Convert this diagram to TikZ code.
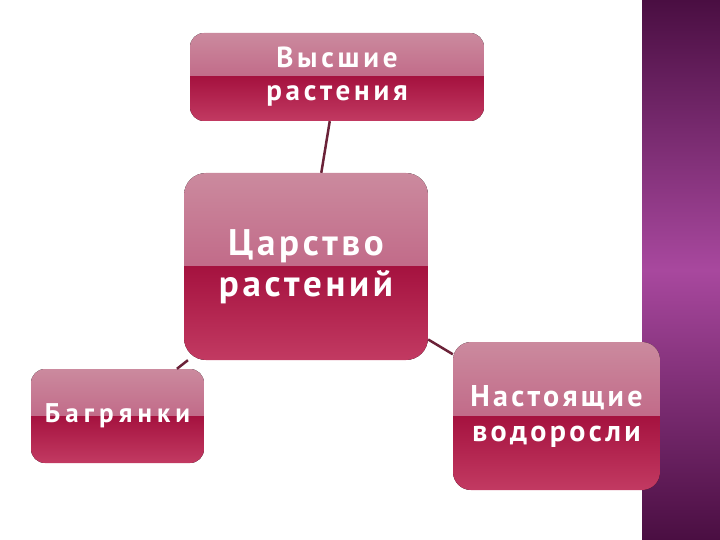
\documentclass[tikz,border=0pt]{standalone}
\usepackage{fontspec}
\setmainfont{PT Sans}
\usetikzlibrary{shadings}

\definecolor{glosstop}{HTML}{CB8A9E}
\definecolor{glossmid}{HTML}{B84C74}
\definecolor{deepmid}{HTML}{A5123F}
\definecolor{deepbot}{HTML}{C23A62}
\definecolor{linkcol}{HTML}{6B2238}
\definecolor{panedark}{HTML}{4A0E42}
\definecolor{panelight}{HTML}{A8489E}

\tikzset{
  glossbox/.style={rounded corners=14pt, inner sep=0pt, align=center,
    text=white,
    path picture={
      \fill[sharp corners, top color=glosstop, bottom color=glossmid]
        (path picture bounding box.north west) rectangle (path picture bounding box.east);
      \fill[sharp corners, top color=deepmid, bottom color=deepbot]
        (path picture bounding box.west) rectangle (path picture bounding box.south east);
    }},
  link/.style={draw=linkcol, line width=2.5pt}
}

\begin{document}
\begin{tikzpicture}[x=1pt, y=-1pt]
      \useasboundingbox[fill=white] (0,0) rectangle (720,540);
      % side panel
      \shade[top color=panedark, bottom color=panedark, middle color=panelight] (642,0) rectangle (720,540);

      \node[glossbox, minimum width=294pt, minimum height=88pt, font=\fontsize{29}{33}\selectfont\bfseries\addfontfeatures{LetterSpace=13}] (high) at (337,77) {Высшие\\растения};
      \node[glossbox, minimum width=244pt, minimum height=187pt, rounded corners=22pt, font=\fontsize{37}{41}\selectfont\bfseries\addfontfeatures{LetterSpace=10}] (kingdom) at (306,266.5) {Царство\\растений};
      \node[glossbox, minimum width=173pt, minimum height=94pt, font=\fontsize{27}{33}\selectfont\bfseries\addfontfeatures{LetterSpace=19}] (red) at (117.5,416) {Багрянки};
      \node[glossbox, minimum width=207pt, minimum height=148pt, rounded corners=18pt, font=\fontsize{30}{35}\selectfont\bfseries\addfontfeatures{LetterSpace=11}] (algae) at (556.5,416) {Настоящие\\водоросли};

      \draw[link] (high) -- (kingdom);
      \draw[link] (kingdom) -- (red);
      \draw[link] (kingdom) -- (algae);
   \end{tikzpicture}
\end{document}
